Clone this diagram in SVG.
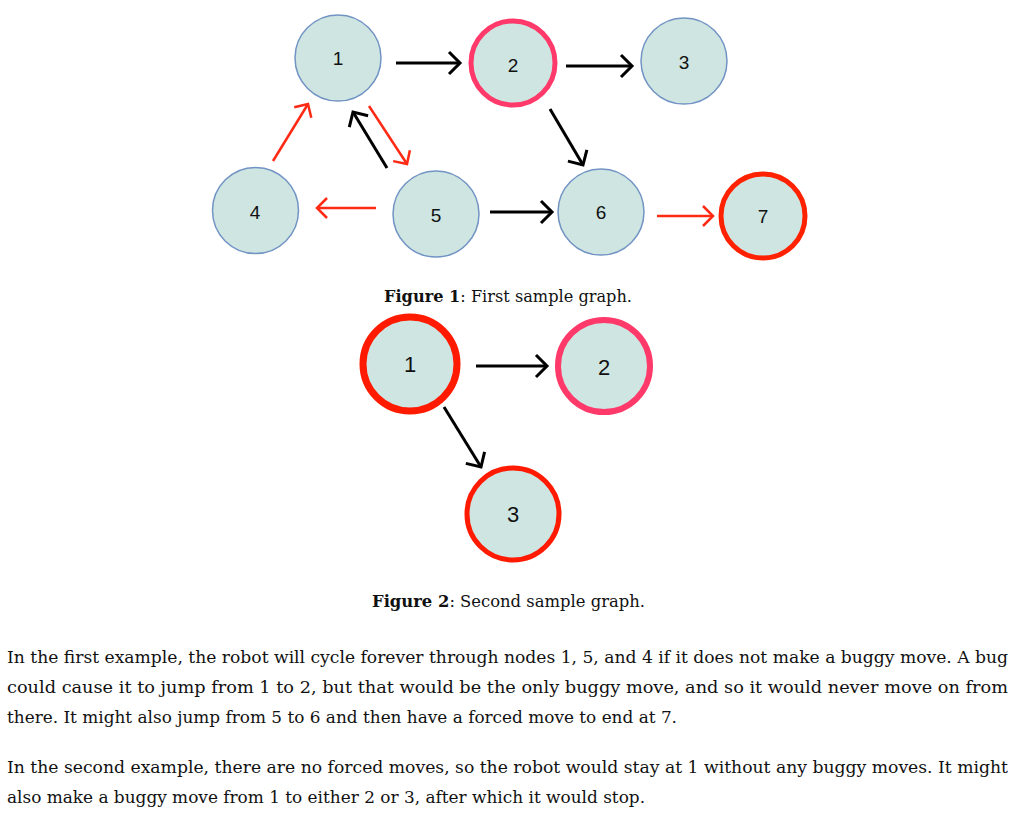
<svg xmlns="http://www.w3.org/2000/svg" width="1024" height="821" viewBox="0 0 1024 821">
<style>
.n{fill:#cfe5e2;stroke:#7294c4;stroke-width:1.5}
.pk{fill:#cfe5e2;stroke:#ff3a6a;stroke-width:5}
.rd{fill:#cfe5e2;stroke:#ff2200;stroke-width:5}
.lb{font-family:"Liberation Sans",Arial,sans-serif;font-size:19px;fill:#111;text-anchor:middle}
.lb2{font-family:"Liberation Sans",Arial,sans-serif;font-size:22px;fill:#111;text-anchor:middle}
.eb{stroke:#000;stroke-width:3;fill:none}
.er{stroke:#ff2a14;stroke-width:2.5;fill:none}
.cap{font-family:"DejaVu Serif","Liberation Serif",serif;font-size:16.5px;fill:#111}
.body{font-family:"DejaVu Serif","Liberation Serif",serif;font-stretch:condensed;font-size:17.5px;fill:#111}
</style>
<defs>
<marker id="ab" markerUnits="userSpaceOnUse" viewBox="-15 -15 18 30" markerWidth="18" markerHeight="30" refX="0" refY="0" orient="auto">
<path d="M-11,-11 L0,0 L-11,11" fill="none" stroke="#000" stroke-width="3"/>
</marker>
<marker id="ar" markerUnits="userSpaceOnUse" viewBox="-15 -15 18 30" markerWidth="18" markerHeight="30" refX="0" refY="0" orient="auto">
<path d="M-10,-10 L0,0 L-10,10" fill="none" stroke="#ff2a14" stroke-width="2.5"/>
</marker>
</defs>
<rect width="1024" height="821" fill="#fff"/>

<g id="connectors">
<line class="eb" x1="396" y1="63" x2="460" y2="63" marker-end="url(#ab)"/>
<line class="eb" x1="566" y1="66" x2="632" y2="66" marker-end="url(#ab)"/>
<line class="eb" x1="550" y1="109" x2="583" y2="165" marker-end="url(#ab)"/>
<line class="eb" x1="490" y1="212" x2="552" y2="212" marker-end="url(#ab)"/>
<line class="er" x1="657" y1="216" x2="713" y2="216" marker-end="url(#ar)"/>
<line class="er" x1="376" y1="208" x2="317" y2="208" marker-end="url(#ar)"/>
<line class="er" x1="273" y1="161" x2="308" y2="104" marker-end="url(#ar)"/>
<line class="eb" x1="387" y1="168" x2="353" y2="112" marker-end="url(#ab)"/>
<line class="er" x1="369" y1="106" x2="407" y2="164" marker-end="url(#ar)"/>
<line class="eb" x1="476" y1="366" x2="547" y2="366" marker-end="url(#ab)"/>
<line class="eb" x1="444" y1="407" x2="481" y2="467" marker-end="url(#ab)"/>
</g>

<g id="f1n1"><circle class="n" cx="338" cy="58" r="43"/><text class="lb" x="338" y="65">1</text></g>
<g id="f1n2"><circle class="pk" cx="513" cy="63" r="42"/><text class="lb" x="513" y="72">2</text></g>
<g id="f1n3"><circle class="n" cx="684" cy="61" r="43"/><text class="lb" x="684" y="69">3</text></g>
<g id="f1n4"><circle class="n" cx="255.5" cy="210.5" r="43"/><text class="lb" x="255" y="219">4</text></g>
<g id="f1n5"><circle class="n" cx="436" cy="214" r="43"/><text class="lb" x="436" y="222">5</text></g>
<g id="f1n6"><circle class="n" cx="601" cy="212" r="43"/><text class="lb" x="601" y="219">6</text></g>
<g id="f1n7"><circle class="rd" cx="763" cy="216" r="42"/><text class="lb" x="763" y="223">7</text></g>

<text class="cap" x="384" y="302" textLength="248" lengthAdjust="spacingAndGlyphs"><tspan font-weight="bold">Figure 1</tspan>: First sample graph.</text>

<g id="f2n1"><circle cx="410" cy="364" r="47" fill="#cfe5e2" stroke="#ff1a00" stroke-width="7"/><text class="lb2" x="410" y="372">1</text></g>
<g id="f2n2"><circle cx="604" cy="366" r="46" fill="#cfe5e2" stroke="#ff3a6a" stroke-width="6"/><text class="lb2" x="604" y="375">2</text></g>
<g id="f2n3"><circle cx="513" cy="514" r="46" fill="#cfe5e2" stroke="#ff1a00" stroke-width="5"/><text class="lb2" x="513" y="522">3</text></g>

<text class="cap" x="372" y="607" textLength="273" lengthAdjust="spacingAndGlyphs"><tspan font-weight="bold">Figure 2</tspan>: Second sample graph.</text>

<text class="body" x="7" y="663" textLength="1001" lengthAdjust="spacingAndGlyphs">In the first example, the robot will cycle forever through nodes 1, 5, and 4 if it does not make a buggy move. A bug</text>
<text class="body" x="7" y="693" textLength="1001" lengthAdjust="spacingAndGlyphs">could cause it to jump from 1 to 2, but that would be the only buggy move, and so it would never move on from</text>
<text class="body" x="7" y="723" textLength="670" lengthAdjust="spacingAndGlyphs">there. It might also jump from 5 to 6 and then have a forced move to end at 7.</text>
<text class="body" x="7" y="773" textLength="1001" lengthAdjust="spacingAndGlyphs">In the second example, there are no forced moves, so the robot would stay at 1 without any buggy moves. It might</text>
<text class="body" x="7" y="803" textLength="638" lengthAdjust="spacingAndGlyphs">also make a buggy move from 1 to either 2 or 3, after which it would stop.</text>
</svg>
